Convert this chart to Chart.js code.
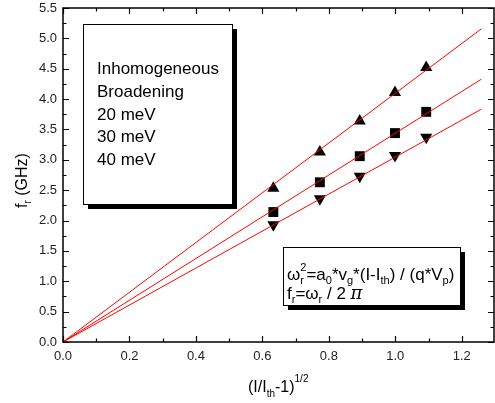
<!DOCTYPE html>
<html>
<head>
<meta charset="utf-8">
<script src="https://cdn.jsdelivr.net/npm/chart.js@4.4.1/dist/chart.umd.min.js"></script>
<style>
  html, body { margin: 0; padding: 0; background: #fff; }
  #wrap { width: 495px; height: 403px; }
</style>
</head>
<body>
<div id="wrap"><canvas id="myChart" width="495" height="403"></canvas></div>
<script>
// measured points, x = (I/Ith-1)^1/2
const xVals = [0.633, 0.773, 0.893, 0.999, 1.093];
const up20 = [2.53, 3.13, 3.64, 4.11, 4.52];
const sq30 = [2.14, 2.63, 3.06, 3.44, 3.79];
const down40 = [1.93, 2.36, 2.73, 3.07, 3.37];

// linear fits through the origin
const fitX = [0, 1.259];
const fit20 = [0, 5.157];
const fit30 = [0, 4.328];
const fit40 = [0, 3.834];

const xTicks = [0, 0.2, 0.4, 0.6, 0.8, 1.0, 1.2];
const xMinor = [0.1, 0.3, 0.5, 0.7, 0.9, 1.1];
const yTicks = [0, 0.5, 1.0, 1.5, 2.0, 2.5, 3.0, 3.5, 4.0, 4.5, 5.0, 5.5];
const yMinor = [0.25, 0.75, 1.25, 1.75, 2.25, 2.75, 3.25, 3.75, 4.25, 4.75, 5.25];

const legendLines = ['Inhomogeneous', 'Broadening', '20 meV', '30 meV', '40 meV'];

const FONT = '"Liberation Sans", Arial, sans-serif';

function pts(xs, ys) {
    return xs.map((x, i) => ({x: x, y: ys[i]}));
}

// draw a run of text pieces, sub/superscripts get smaller font and offset
function richText(ctx, x, y, parts) {
    let cx = x;
    let stackW = 0;
    parts.forEach(p => {
        ctx.font = (p.italic ? 'italic ' : '') + p.size + 'px ' + (p.font || FONT);
        ctx.fillText(p.t, cx, y + (p.dy || 0));
        const w = ctx.measureText(p.t).width;
        if (p.stack) {
            stackW = w;
        } else {
            cx += Math.max(w, stackW);
            stackW = 0;
        }
    });
    return cx - x;
}

function box(ctx, l, t, r, b) {
    ctx.fillStyle = '#000';
    ctx.fillRect(l + 5, t + 5, r - l, b - t);
    ctx.fillStyle = '#fff';
    ctx.fillRect(l, t, r - l, b - t);
    ctx.strokeStyle = '#000';
    ctx.lineWidth = 1;
    ctx.strokeRect(l + 0.5, t + 0.5, r - l, b - t);
}

const decor = {
    id: 'decor',
    beforeDatasetsDraw(chart) {
        const ctx = chart.ctx;
        ctx.save();
        // boxes under the data
        box(ctx, 83, 24, 232, 204);
        box(ctx, 283, 247, 460, 305);

        ctx.fillStyle = '#000';
        ctx.textBaseline = 'alphabetic';
        ctx.textAlign = 'left';
        ctx.font = '17px ' + FONT;
        const base = [74, 97, 119.5, 142, 165];
        legendLines.forEach((s, i) => ctx.fillText(s, 97, base[i]));

        const S = 17, s = 11;
        richText(ctx, 287, 280, [
            {t: '\u03c9', size: S},
            {t: 'r', size: s, dy: 4, stack: true},
            {t: '2', size: s, dy: -9},
            {t: '=a', size: S},
            {t: '0', size: s, dy: 4},
            {t: '*v', size: S},
            {t: 'g', size: s, dy: 4},
            {t: '*(I-I', size: S},
            {t: 'th', size: s, dy: 4},
            {t: ') / (q*V', size: S},
            {t: 'p', size: s, dy: 4},
            {t: ')', size: S}
        ]);
        richText(ctx, 287, 299, [
            {t: 'f', size: S},
            {t: 'r', size: s, dy: 4},
            {t: '=\u03c9', size: S},
            {t: 'r', size: s, dy: 4},
            {t: ' / 2 ', size: S},
            {t: '\u03c0', size: 18, italic: true, font: '"DejaVu Serif", serif'}
        ]);
        ctx.restore();
    },
    afterDraw(chart) {
        const ctx = chart.ctx;
        const a = chart.chartArea;
        const xs = chart.scales.x, ys = chart.scales.y;
        ctx.save();
        ctx.strokeStyle = '#000';
        ctx.lineWidth = 1.5;
        ctx.strokeRect(a.left, a.top, a.right - a.left - 1, a.bottom - a.top);

        ctx.lineWidth = 1.2;
        ctx.beginPath();
        const tickX = (v, len) => {
            const p = Math.round(xs.getPixelForValue(v)) + 0.5;
            ctx.moveTo(p, a.bottom); ctx.lineTo(p, a.bottom - len);
            ctx.moveTo(p, a.top); ctx.lineTo(p, a.top + len);
        };
        const tickY = (v, len) => {
            const p = Math.round(ys.getPixelForValue(v)) + 0.5;
            ctx.moveTo(a.left, p); ctx.lineTo(a.left + len, p);
            ctx.moveTo(a.right - 1, p); ctx.lineTo(a.right - 1 - len, p);
        };
        xTicks.forEach(v => tickX(v, 6));
        xMinor.forEach(v => tickX(v, 3.5));
        yTicks.forEach(v => tickY(v, 6));
        yMinor.forEach(v => tickY(v, 3.5));
        ctx.stroke();

        // axis titles
        ctx.fillStyle = '#000';
        ctx.textBaseline = 'alphabetic';
        ctx.textAlign = 'left';
        richText(ctx, 248, 392, [
            {t: '(I/I', size: 16},
            {t: 'th', size: 10, dy: 5},
            {t: '-1)', size: 16},
            {t: '1/2', size: 10, dy: -10}
        ]);
        ctx.translate(27, 208);
        ctx.rotate(-Math.PI / 2);
        richText(ctx, 0, 0, [
            {t: 'f', size: 16},
            {t: 'r', size: 10, dy: 4},
            {t: ' (GHz)', size: 16}
        ]);
        ctx.restore();
    }
};

const config = {
    type: 'scatter',
    data: {
        datasets: [
            {label: 'fit 20', data: pts(fitX, fit20), showLine: true, borderColor: '#ff0000', borderWidth: 1, pointRadius: 0},
            {label: 'fit 30', data: pts(fitX, fit30), showLine: true, borderColor: '#ff0000', borderWidth: 1, pointRadius: 0},
            {label: 'fit 40', data: pts(fitX, fit40), showLine: true, borderColor: '#ff0000', borderWidth: 1, pointRadius: 0},
            {label: '20 meV', data: pts(xVals, up20), pointStyle: 'triangle', pointRadius: 7,
             backgroundColor: '#000', borderColor: '#000', borderWidth: 0},
            {label: '30 meV', data: pts(xVals, sq30), pointStyle: 'rect', pointRadius: 7,
             backgroundColor: '#000', borderColor: '#000', borderWidth: 0},
            {label: '40 meV', data: pts(xVals, down40), pointStyle: 'triangle', rotation: 180, pointRadius: 7,
             backgroundColor: '#000', borderColor: '#000', borderWidth: 0}
        ]
    },
    options: {
        responsive: false,
        animation: false,
        layout: {autoPadding: false, padding: {top: 8, right: 0, left: 0, bottom: 0}},
        plugins: {
            legend: {display: false},
            tooltip: {enabled: false}
        },
        scales: {
            x: {
                type: 'linear',
                min: 0,
                max: 1.3,
                grid: {display: false, drawTicks: false},
                border: {display: false},
                afterBuildTicks: s => { s.ticks = xTicks.map(v => ({value: v})); },
                afterFit: s => { s.height = 61; s.paddingLeft = 0; s.paddingRight = 0; },
                ticks: {
                    padding: 7,
                    color: '#222',
                    font: {family: FONT, size: 13},
                    callback: v => v.toFixed(1)
                }
            },
            y: {
                type: 'linear',
                min: 0,
                max: 5.5,
                grid: {display: false, drawTicks: false},
                border: {display: false},
                afterBuildTicks: s => { s.ticks = yTicks.map(v => ({value: v})); },
                afterFit: s => { s.width = 63; s.paddingTop = 0; s.paddingBottom = 0; },
                ticks: {
                    padding: 6,
                    color: '#222',
                    font: {family: FONT, size: 13},
                    callback: v => v.toFixed(1)
                }
            }
        }
    },
    plugins: [decor]
};

const myChart = new Chart(document.getElementById('myChart'), config);
</script>
</body>
</html>
